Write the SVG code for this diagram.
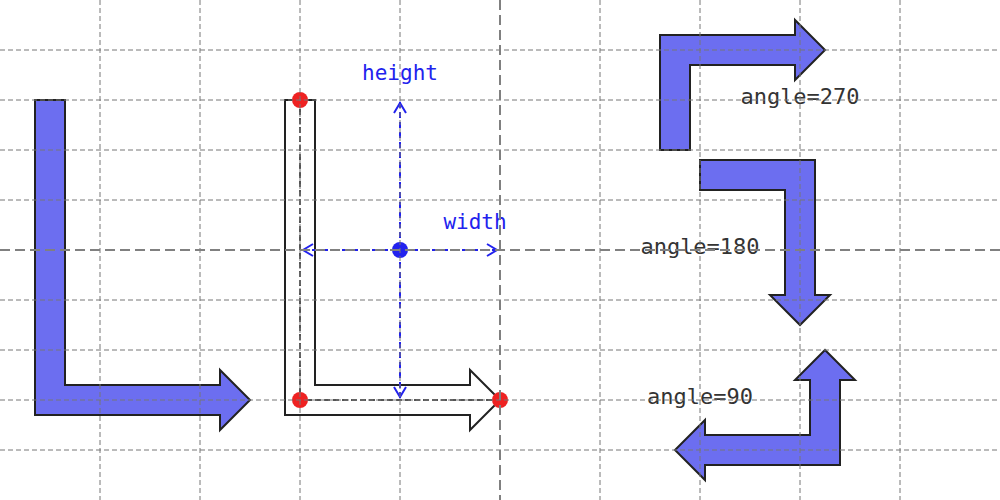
<svg xmlns="http://www.w3.org/2000/svg" width="1000" height="500" viewBox="0 0 1000 500">
<defs>
<style>
.arrow{fill:#6c6ef0;stroke:#222;stroke-width:2;stroke-linejoin:miter}
.outline{fill:none;stroke:#222;stroke-width:2}
.center{fill:none;stroke:#555;stroke-width:2;stroke-dasharray:6,3}
.dim{fill:none;stroke:#2222ee;stroke-width:2;stroke-dasharray:6,4}
.chev{fill:none;stroke:#2222ee;stroke-width:2}
.grid{stroke:#777;stroke-width:1;stroke-dasharray:5,3}
.axis{stroke:#808080;stroke-width:2;stroke-dasharray:10,5}
.lbl{font-family:"DejaVu Sans Mono","Liberation Mono",monospace;font-size:21px;fill:#2222ee;text-anchor:middle;dominant-baseline:middle}
.ang{font-family:"DejaVu Sans Mono","Liberation Mono",monospace;font-size:22px;fill:#333;text-anchor:middle;dominant-baseline:middle}
</style>
</defs>
<g id="arrow-left">
<path class="arrow" d="M35,100 L65,100 L65,385 L220,385 L220,370 L250,400 L220,430 L220,415 L35,415 Z"/>
</g>
<g id="arrow-outline">
<path class="outline" d="M285,100 L315,100 L315,385 L470,385 L470,370 L500,400 L470,430 L470,415 L285,415 Z"/>
<polyline class="center" points="300,100 300,400 500,400"/>
</g>
<g id="connectors">
<line class="dim" x1="400" y1="102" x2="400" y2="398"/>
<polyline class="chev" points="394,113 400,103 406,113"/>
<polyline class="chev" points="394,387 400,397 406,387"/>
<line class="dim" x1="302" y1="250" x2="498" y2="250"/>
<polyline class="chev" points="313,244 303,250 313,256"/>
<polyline class="chev" points="487,244 497,250 487,256"/>
</g>
<g id="points">
<circle cx="300" cy="100" r="8" fill="#ee2222"/>
<circle cx="300" cy="400" r="8" fill="#ee2222"/>
<circle cx="500" cy="400" r="8" fill="#ee2222"/>
<circle cx="400" cy="250" r="8" fill="#2222ee"/>
</g>
<g id="label-height"><text class="lbl" x="400" y="74">height</text></g>
<g id="label-width"><text class="lbl" x="475" y="223">width</text></g>
<g id="arrow-270">
<path class="arrow" d="M660,150 L660,35 L795,35 L795,20 L825,50 L795,80 L795,65 L690,65 L690,150 Z"/>
<text class="ang" x="800" y="98">angle=270</text>
</g>
<g id="arrow-180">
<path class="arrow" d="M700,160 L815,160 L815,295 L830,295 L800,325 L770,295 L785,295 L785,190 L700,190 Z"/>
<text class="ang" x="700" y="248">angle=180</text>
</g>
<g id="arrow-90">
<path class="arrow" d="M840,465 L840,380 L855,380 L825,350 L795,380 L810,380 L810,435 L705,435 L705,420 L675,450 L705,480 L705,465 Z"/>
<text class="ang" x="700" y="398">angle=90</text>
</g>
<g id="grid">
<line class="grid" x1="100" y1="0" x2="100" y2="500"/>
<line class="grid" x1="200" y1="0" x2="200" y2="500"/>
<line class="grid" x1="300" y1="0" x2="300" y2="500"/>
<line class="grid" x1="400" y1="0" x2="400" y2="500"/>
<line class="grid" x1="600" y1="0" x2="600" y2="500"/>
<line class="grid" x1="700" y1="0" x2="700" y2="500"/>
<line class="grid" x1="800" y1="0" x2="800" y2="500"/>
<line class="grid" x1="900" y1="0" x2="900" y2="500"/>
<line class="grid" x1="0" y1="50" x2="1000" y2="50"/>
<line class="grid" x1="0" y1="100" x2="1000" y2="100"/>
<line class="grid" x1="0" y1="150" x2="1000" y2="150"/>
<line class="grid" x1="0" y1="200" x2="1000" y2="200"/>
<line class="grid" x1="0" y1="300" x2="1000" y2="300"/>
<line class="grid" x1="0" y1="350" x2="1000" y2="350"/>
<line class="grid" x1="0" y1="400" x2="1000" y2="400"/>
<line class="grid" x1="0" y1="450" x2="1000" y2="450"/>
<line class="axis" x1="500" y1="0" x2="500" y2="500"/>
<line class="axis" x1="0" y1="250" x2="1000" y2="250"/>
</g>
</svg>
